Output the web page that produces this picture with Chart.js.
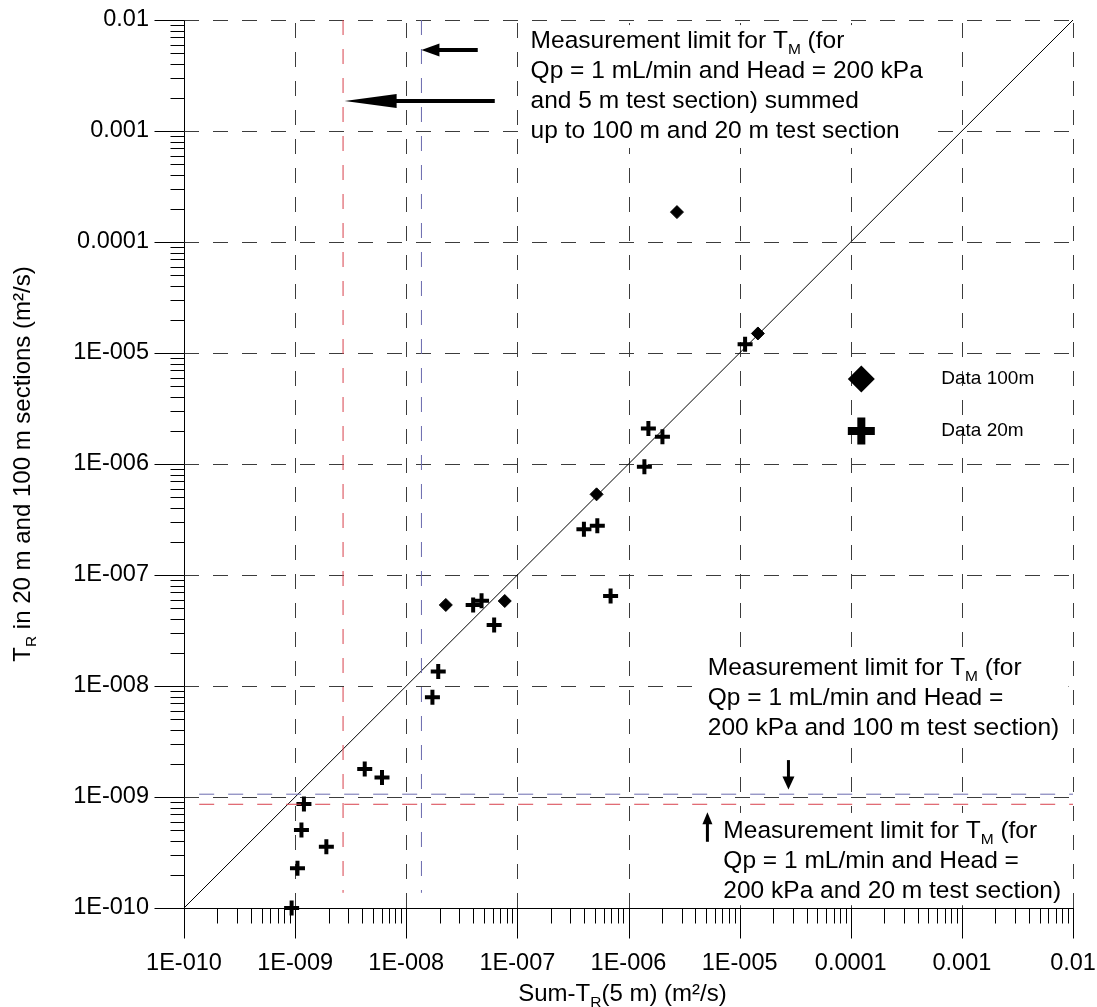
<!DOCTYPE html>
<html><head><meta charset="utf-8">
<script src="https://cdn.jsdelivr.net/npm/chart.js@4.4.0/dist/chart.umd.min.js"></script>
<style>html,body{margin:0;padding:0;background:#fff;} #wrap{width:1097px;height:1007px;position:relative;}</style>
</head><body><div id="wrap"><canvas id="c"></canvas></div>
<script>
// ---------- data ----------
const decades = [1e-10, 1e-9, 1e-8, 1e-7, 1e-6, 1e-5, 1e-4, 1e-3, 1e-2];
const tickLabels = ['1E-010', '1E-009', '1E-008', '1E-007', '1E-006', '1E-005', '0.0001', '0.001', '0.01'];

const data100mX = [2.27e-8, 7.7e-8, 5.16e-7, 1.46e-5, 2.73e-6];
const data100mY = [5.37e-8, 5.83e-8, 5.33e-7, 1.50e-5, 1.86e-4];

const data20mX = [9.3e-10, 1.05e-9, 1.14e-9, 1.2e-9, 1.91e-9, 4.23e-9, 6.05e-9, 1.72e-8, 1.94e-8, 4.0e-8,
                  4.76e-8, 6.18e-8, 6.9e-7, 3.97e-7, 5.24e-7, 1.39e-6, 1.51e-6, 2.02e-6, 1.12e-5];
const data20mY = [1.0e-10, 2.28e-10, 5.05e-10, 8.65e-10, 3.57e-10, 1.79e-9, 1.50e-9, 7.9e-9, 1.35e-8, 5.37e-8,
                  5.87e-8, 3.55e-8, 6.47e-8, 2.58e-7, 2.78e-7, 9.46e-7, 2.09e-6, 1.76e-6, 1.20e-5];

const oneToOneX = [1e-10, 1e-2];
const oneToOneY = [1e-10, 1e-2];

// measurement-limit lines
const limit5mSummed100X = 2.7e-9;    // red vertical
const limit5mSummed20X = 1.37e-8;    // blue vertical
const limit100mY = 1.06e-9;          // blue horizontal
const limit20mY = 8.6e-10;           // red horizontal
const limitLineStart = 1.37e-10;
const limitLineEnd = 1e-2;

const legendLabels = ['Data 100m', 'Data 20m'];

// ---------- annotation layout (data units) ----------
const arrows = [
  {x1: 4.4e-8, y1: 5.37e-3, x2: 1.37e-8, y2: 5.37e-3, head: 18, half: 6.5, w: 4},
  {x1: 6.26e-8, y1: 1.86e-3, x2: 2.79e-9, y2: 1.86e-3, head: 52, half: 7, w: 4},
  {x1: 2.75e-5, y1: 2.15e-9, x2: 2.75e-5, y2: 1.17e-9, head: 13, half: 6, w: 3},
  {x1: 5.13e-6, y1: 3.95e-10, x2: 5.13e-6, y2: 7.28e-10, head: 12, half: 5, w: 3}
];
const whiteBoxes = [
  {x1: 1.053e-7, x2: 5.2e-4, y1: 9.0e-3, y2: 7.03e-4},
  {x1: 4.4e-6, x2: 9.1e-3, y1: 2.2e-8, y2: 2.88e-9},
  {x1: 5.65e-6, x2: 9.1e-3, y1: 7.18e-10, y2: 1.06e-10}
];
const TM = [{t: 'Measurement limit for T'}, {t: 'M', sub: true}, {t: ' (for'}];
const textBlocks = [
  {x: 1.315e-7, y: 5.6e-3, lines: [TM, [{t: 'Qp = 1 mL/min and Head = 200 kPa'}], [{t: 'and 5 m test section) summed'}], [{t: 'up to 100 m and 20 m test section'}]]},
  {x: 5.17e-6, y: 1.256e-8, lines: [TM, [{t: 'Qp = 1 mL/min and Head ='}], [{t: '200 kPa and 100 m test section)'}]]},
  {x: 7.14e-6, y: 4.27e-10, lines: [TM, [{t: 'Qp = 1 mL/min and Head ='}], [{t: '200 kPa and 20 m test section)'}]]}
];
const legendPos = {markerX: 1.245e-4, textX: 6.53e-4, y: [5.83e-6, 1.98e-6]};
const xTitle = [{t: 'Sum-T'}, {t: 'R', sub: true}, {t: '(5 m) (m²/s)'}];
const yTitle = [{t: 'T'}, {t: 'R', sub: true}, {t: ' in 20 m and 100 m sections (m²/s)'}];

// ---------- styling ----------
const FONT = 'Liberation Sans, Arial, sans-serif';
const NOTE_FS = 24.5, TITLE_FS = 24, TICK_FS = 23.5, LEGEND_FS = 19, SUBFS = 15.5, LINE = 30;

function pts(xs, ys) { return xs.map((v, i) => ({x: v, y: ys[i]})); }

function richWidth(ctx, segs, fs) {
  let w = 0;
  segs.forEach(s => { ctx.font = (s.sub ? SUBFS : fs) + 'px ' + FONT; w += ctx.measureText(s.t).width; });
  return w;
}
function drawRich(ctx, segs, x, y, align, fs) {
  let cx = x;
  if (align === 'center') cx = x - richWidth(ctx, segs, fs) / 2;
  ctx.textAlign = 'left'; ctx.textBaseline = 'alphabetic';
  segs.forEach(s => {
    ctx.font = (s.sub ? SUBFS : fs) + 'px ' + FONT;
    ctx.fillText(s.t, cx, s.sub ? y + 6 : y);
    cx += ctx.measureText(s.t).width;
  });
}

const overlay = {
  id: 'overlay',
  beforeDatasetsDraw(chart) {
    const {ctx, chartArea: a, scales: {x, y}} = chart;
    ctx.save();
    ctx.lineWidth = 1;
    ctx.strokeStyle = '#3c3c3c';
    ctx.setLineDash([15, 14]);
    decades.forEach((v, i) => {
      if (i === 0) return;
      const px = Math.round(x.getPixelForValue(v)) + 0.5;
      ctx.beginPath(); ctx.moveTo(px, a.bottom); ctx.lineTo(px, a.top); ctx.stroke();
      const py = Math.round(y.getPixelForValue(v)) + 0.5;
      ctx.beginPath(); ctx.moveTo(a.left, py); ctx.lineTo(a.right, py); ctx.stroke();
    });
    ctx.setLineDash([]);
    ctx.strokeStyle = '#000';
    const ax = Math.round(a.left) + 0.5, ay = Math.round(a.bottom) + 0.5;
    decades.forEach((v, i) => {
      const px = Math.round(x.getPixelForValue(v)) + 0.5;
      const py = Math.round(y.getPixelForValue(v)) + 0.5;
      ctx.beginPath();
      ctx.moveTo(px, ay); ctx.lineTo(px, ay + 30);
      ctx.moveTo(ax, py); ctx.lineTo(ax - 30, py);
      if (i < decades.length - 1) {
        for (let m = 2; m <= 9; m++) {
          const mx = Math.round(x.getPixelForValue(v * m)) + 0.5;
          const my = Math.round(y.getPixelForValue(v * m)) + 0.5;
          ctx.moveTo(mx, ay); ctx.lineTo(mx, ay + 15);
          ctx.moveTo(ax, my); ctx.lineTo(ax - 14, my);
        }
      }
      ctx.stroke();
    });
    // white boxes behind annotation text
    ctx.fillStyle = '#fff';
    whiteBoxes.forEach(b => {
      const x1 = x.getPixelForValue(b.x1), x2 = x.getPixelForValue(b.x2);
      const y1 = y.getPixelForValue(b.y1), y2 = y.getPixelForValue(b.y2);
      ctx.fillRect(x1, y1, x2 - x1, y2 - y1);
    });
    ctx.restore();
  },
  afterDatasetsDraw(chart) {
    const {ctx, chartArea: a, scales: {x, y}} = chart;
    ctx.save();
    ctx.fillStyle = '#000'; ctx.strokeStyle = '#000';
    // arrows
    arrows.forEach(r => {
      const x1 = x.getPixelForValue(r.x1), y1 = y.getPixelForValue(r.y1);
      const x2 = x.getPixelForValue(r.x2), y2 = y.getPixelForValue(r.y2);
      const len = Math.hypot(x2 - x1, y2 - y1);
      const ux = (x2 - x1) / len, uy = (y2 - y1) / len;
      const bx = x2 - ux * r.head, by = y2 - uy * r.head;
      ctx.lineWidth = r.w; ctx.lineCap = 'butt';
      ctx.beginPath(); ctx.moveTo(x1, y1); ctx.lineTo(bx + ux, by + uy); ctx.stroke();
      ctx.beginPath();
      ctx.moveTo(x2, y2);
      ctx.lineTo(bx - uy * r.half, by + ux * r.half);
      ctx.lineTo(bx + uy * r.half, by - ux * r.half);
      ctx.closePath(); ctx.fill();
    });
    // annotation text
    textBlocks.forEach(b => {
      const tx = x.getPixelForValue(b.x), ty = y.getPixelForValue(b.y);
      b.lines.forEach((l, i) => drawRich(ctx, l, tx, ty + i * LINE, 'left', NOTE_FS));
    });
    // legend
    const mx = x.getPixelForValue(legendPos.markerX);
    const tx = x.getPixelForValue(legendPos.textX);
    const ly0 = y.getPixelForValue(legendPos.y[0]);
    const ly1 = y.getPixelForValue(legendPos.y[1]);
    ctx.beginPath();
    ctx.moveTo(mx - 13.5, ly0); ctx.lineTo(mx, ly0 - 13.5); ctx.lineTo(mx + 13.5, ly0); ctx.lineTo(mx, ly0 + 13.5);
    ctx.closePath(); ctx.fill();
    ctx.lineWidth = 8;
    ctx.beginPath();
    ctx.moveTo(mx - 13.5, ly1); ctx.lineTo(mx + 13.5, ly1);
    ctx.moveTo(mx, ly1 - 13.5); ctx.lineTo(mx, ly1 + 13.5);
    ctx.stroke();
    ctx.font = LEGEND_FS + 'px ' + FONT; ctx.textAlign = 'left'; ctx.textBaseline = 'middle';
    ctx.fillText(legendLabels[0], tx, ly0);
    ctx.fillText(legendLabels[1], tx, ly1);
    // axis titles
    drawRich(ctx, xTitle, (a.left + a.right) / 2 - 6, 1001, 'center', TITLE_FS);
    ctx.translate(30, (a.top + a.bottom) / 2);
    ctx.rotate(-Math.PI / 2);
    drawRich(ctx, yTitle, 0, 0, 'center', TITLE_FS);
    ctx.restore();
  }
};

function logAxis(isX) {
  return {
    type: 'logarithmic', min: decades[0], max: decades[decades.length - 1],
    position: isX ? 'bottom' : 'left',
    afterBuildTicks: s => { s.ticks = decades.map(v => ({value: v})); },
    afterFit: s => {
      if (isX) s.height = 99; else s.width = 184;
      s.paddingLeft = 0; s.paddingRight = 0; s.paddingTop = 0; s.paddingBottom = 0;
    },
    ticks: {
      callback: (v, i) => tickLabels[i], autoSkip: false, maxRotation: 0, minRotation: 0,
      color: '#000', font: {family: FONT, size: TICK_FS}, padding: isX ? 11 : 5
    },
    grid: {display: true, drawOnChartArea: false, drawTicks: true, tickLength: 30, color: 'rgba(0,0,0,0)'},
    border: {display: true, color: '#000', width: 1},
    title: {display: false}
  };
}

new Chart(document.getElementById('c'), {
  type: 'scatter',
  data: {
    datasets: [
      {label: 'limit100', data: [{x: limitLineStart, y: limit100mY}, {x: limitLineEnd, y: limit100mY}], showLine: true,
       borderColor: '#6a6aae', borderWidth: 1, borderDash: [15, 14], pointRadius: 0, clip: false},
      {label: 'limit20', data: [{x: limitLineStart, y: limit20mY}, {x: limitLineEnd, y: limit20mY}], showLine: true,
       borderColor: '#d8404c', borderWidth: 1, borderDash: [15, 14], pointRadius: 0, clip: false},
      {label: 'limitSum100', data: [{x: limit5mSummed100X, y: limitLineEnd}, {x: limit5mSummed100X, y: limitLineStart}], showLine: true,
       borderColor: '#d8404c', borderWidth: 1, borderDash: [15, 14], pointRadius: 0, clip: false},
      {label: 'limitSum20', data: [{x: limit5mSummed20X, y: limitLineEnd}, {x: limit5mSummed20X, y: limitLineStart}], showLine: true,
       borderColor: '#6a6aae', borderWidth: 1, borderDash: [15, 14], pointRadius: 0, clip: false},
      {label: '1:1', data: pts(oneToOneX, oneToOneY), showLine: true, borderColor: '#000', borderWidth: 1, pointRadius: 0, clip: false},
      {label: legendLabels[0], data: pts(data100mX, data100mY), pointStyle: 'rectRot', pointRadius: 6.5,
       backgroundColor: '#000', borderColor: '#000', borderWidth: 1, clip: false},
      {label: legendLabels[1], data: pts(data20mX, data20mY), pointStyle: 'cross', pointRadius: 7.5,
       backgroundColor: '#000', borderColor: '#000', borderWidth: 4, clip: false}
    ]
  },
  options: {
    responsive: true, maintainAspectRatio: false, animation: false,
    layout: {padding: {left: 0, top: 20, right: 24, bottom: 0}},
    plugins: {legend: {display: false}, tooltip: {enabled: false}},
    events: [],
    scales: {x: logAxis(true), y: logAxis(false)}
  },
  plugins: [overlay]
});
</script></body></html>
